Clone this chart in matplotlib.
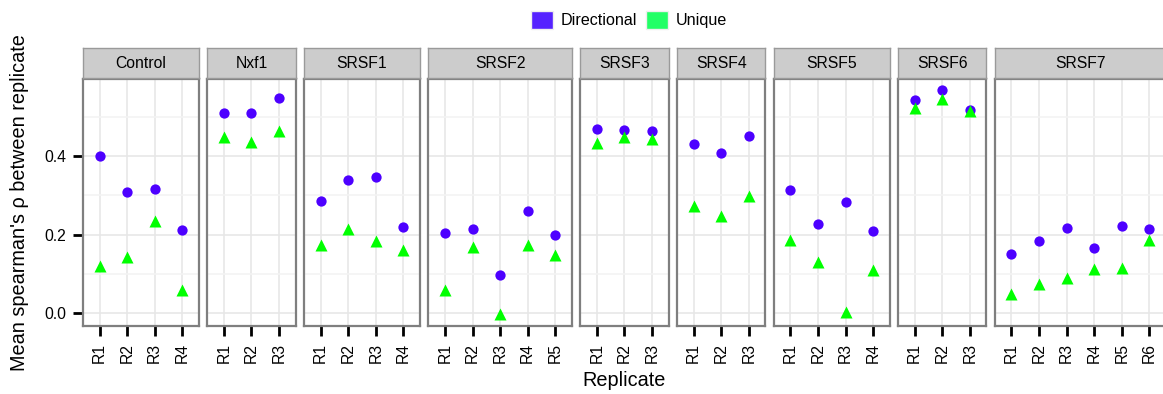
import matplotlib
matplotlib.use("Agg")
import matplotlib.pyplot as plt
from matplotlib.patches import Patch
from matplotlib.ticker import FixedLocator

plt.rcParams['font.family'] = ['Liberation Sans', 'DejaVu Sans']

# Data
groups = ["Control", "Nxf1", "SRSF1", "SRSF2", "SRSF3", "SRSF4", "SRSF5", "SRSF6", "SRSF7"]
n_reps = [4, 3, 4, 5, 3, 3, 4, 3, 6]
directional = [0.400, 0.308, 0.317, 0.212,
               0.512, 0.512, 0.550,
               0.285, 0.340, 0.347, 0.219,
               0.204, 0.214, 0.097, 0.260, 0.200,
               0.469, 0.467, 0.465,
               0.432, 0.409, 0.452,
               0.313, 0.226, 0.283, 0.208,
               0.544, 0.570, 0.518,
               0.150, 0.184, 0.217, 0.165, 0.221, 0.214]
unique = [0.120, 0.143, 0.234, 0.058,
          0.450, 0.437, 0.466,
          0.173, 0.213, 0.184, 0.160,
          0.057, 0.167, -0.003, 0.174, 0.147,
          0.433, 0.450, 0.445,
          0.272, 0.248, 0.299,
          0.185, 0.130, 0.002, 0.110,
          0.525, 0.546, 0.516,
          0.047, 0.073, 0.088, 0.112, 0.115, 0.185]

col_dir = "#4D00FF"
col_uni = "#00FF00"

W, H = 1163, 394
fig = plt.figure(figsize=(W / 100, H / 100), dpi=100)

# layout in pixels
left0 = 83
gap = 8.5
unit = 27.58
p_top, p_bot = 79, 326
s_top = 48

x = left0
start = 0
for i, (g, n) in enumerate(zip(groups, n_reps)):
    w = (n + 0.2) * unit
    ax = fig.add_axes([x / W, (H - p_bot) / H, w / W, (p_bot - p_top) / H])
    pos = list(range(n))
    ax.plot(pos, directional[start:start + n], 'o', color=col_dir, ms=7.4, mec='none', zorder=3)
    ax.plot(pos, unique[start:start + n], '^', color=col_uni, ms=9, mec='none', zorder=4)
    start += n

    ax.set_xlim(-0.6, n - 0.4)
    ax.set_ylim(-0.034, 0.598)
    ax.set_xticks(pos)
    ax.set_xticklabels(["R%d" % (k + 1) for k in pos], rotation=90, fontsize=11.3)
    ax.set_yticks([0.0, 0.2, 0.4])
    ax.yaxis.set_minor_locator(FixedLocator([0.1, 0.3, 0.5]))
    ax.set_axisbelow(True)
    ax.grid(which='major', color='#E6E6E6', lw=1.1)
    ax.grid(which='minor', axis='y', color='#F3F3F3', lw=1.1)
    ax.tick_params(which='minor', length=0)
    ax.tick_params(axis='x', length=7, width=2, color='black', pad=5)
    if i == 0:
        ax.set_yticklabels(["0.0", "0.2", "0.4"], fontsize=11.3)
        ax.tick_params(axis='y', length=7, width=2, color='black', pad=5)
    else:
        ax.tick_params(axis='y', length=0, labelleft=False)
    for sp in ax.spines.values():
        sp.set_color('#7F7F7F')
        sp.set_linewidth(1.6)

    # facet strip
    sax = fig.add_axes([x / W, (H - p_top + 1) / H, w / W, (p_top - 1 - s_top) / H])
    sax.set_facecolor('#CCCCCC')
    sax.set_xticks([])
    sax.set_yticks([])
    for sp in sax.spines.values():
        sp.set_color('#9A9A9A')
        sp.set_linewidth(1.0)
    sax.text(0.5, 0.5, g, ha='center', va='center', fontsize=11.3, transform=sax.transAxes)

    x += w + gap

fig.text(20 / W, (H - 203) / H, "Mean spearman's \u03c1 between replicate",
         rotation=90, ha='center', va='center', fontsize=14.3)
fig.text(624 / W, (H - 381) / H, "Replicate", ha='center', va='center', fontsize=14.3)

handles = [Patch(facecolor="#5522FF", edgecolor="#EEEEEE", lw=1, label="Directional"),
           Patch(facecolor="#22FF66", edgecolor="#EEEEEE", lw=1, label="Unique")]
fig.legend(handles=handles, loc='center', bbox_to_anchor=(629 / W, (H - 20) / H), ncol=2,
           frameon=False, fontsize=11.6, handlelength=1.375, handleheight=1.375,
           handletextpad=0.5, columnspacing=0.5)

fig.savefig("out.png", dpi=100)
